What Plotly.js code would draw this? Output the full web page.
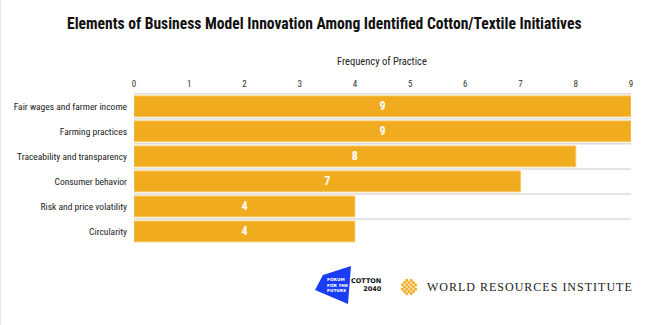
<!DOCTYPE html>
<html><head><meta charset="utf-8">
<script src="https://cdn.plot.ly/plotly-3.0.1.min.js"></script>
<style>html,body{margin:0;padding:0;background:#fff}#c{width:649px;height:325px}</style>
</head><body><div id="c"></div>
<script>
var categories = ["Fair wages and farmer income","Farming practices","Traceability and transparency","Consumer behavior","Risk and price volatility","Circularity"];
var values = [9,9,8,7,4,4];
var tickVals = [0,1,2,3,4,5,6,7,8,9];

var COND = "Roboto Condensed, Liberation Sans Narrow, DejaVu Sans Condensed, Arial Narrow, sans-serif";

var shapes = [];
// separators between rows (none below the last row)
for (var i = 0; i < categories.length; i++) {
  shapes.push({type:'line', xref:'x', yref:'y', x0:0, x1:9, y0:i-0.5, y1:i-0.5,
    line:{color:'#dcdcdc', width:1.5}, layer:'below'});
}
function px(x){ return (x-134)/497; }
function py(y){ return (244-y)/151; }
// left border of the image
shapes.push({type:'line', xref:'paper', yref:'paper', x0:px(0.5), x1:px(0.5), y0:py(325), y1:py(0), line:{color:'#e6e6e6', width:1}});
// Forum for the Future blue shape
var poly = [[323,275],[351,266],[348,304],[315,290]];
var path = 'M' + poly.map(function(p){return px(p[0])+','+py(p[1]);}).join(' L') + ' Z';
shapes.push({type:'path', xref:'paper', yref:'paper', path:path, fillcolor:'#1a3cf5', line:{width:0}});
// WRI logo diamond pattern
var cx = 409, cy = 287;
for (var a = -2; a <= 2; a++) {
  for (var b = -2; b <= 2; b++) {
    if (Math.abs(a) + Math.abs(b) > 3) continue;
    var x = cx + (a - b) * 2.2, y = cy + (a + b) * 2.2;
    shapes.push({type:'circle', xref:'paper', yref:'paper', x0:px(x-1.6), x1:px(x+1.6), y0:py(y+1.6), y1:py(y-1.6),
      fillcolor:'#f2b233', line:{width:0}});
  }
}

var wri = 'WORLD RESOURCES INSTITUTE'.split('').join('\u200A');

var annotations = [
  {xref:'paper', yref:'paper', x:px(324), y:py(24), text:'<b>Elements of Business Model Innovation Among Identified Cotton/Textile Initiatives</b>',
   showarrow:false, font:{family:COND, size:15.6, color:'#111'}, xanchor:'center', yanchor:'middle'},
  {xref:'paper', yref:'paper', x:px(382), y:py(61), text:'Frequency of Practice', showarrow:false,
   font:{family:COND, size:10.5, color:'#222'}, xanchor:'center', yanchor:'middle'},
  {xref:'paper', yref:'paper', x:px(325), y:py(285), text:'<b>FORUM<br>FOR THE<br>FUTURE</b>', showarrow:false, align:'left',
   font:{family:'DejaVu Sans', size:4.3, color:'#fff'}, xanchor:'left', yanchor:'middle'},
  {xref:'paper', yref:'paper', x:px(384), y:py(285), text:'<b>COTTON<br>2040</b>', showarrow:false, align:'right',
   font:{family:'DejaVu Sans', size:6.5, color:'#111'}, xanchor:'right', yanchor:'middle'},
  {xref:'paper', yref:'paper', x:px(425), y:py(287), text:wri, showarrow:false,
   font:{family:'Liberation Serif, DejaVu Serif, serif', size:12, color:'#222'}, xanchor:'left', yanchor:'middle'}
];

var trace = {
  type:'bar', orientation:'h', x:values, y:categories,
  marker:{color:'#f0ab1e', line:{color:'#f6c860', width:1}},
  text:values.map(String), textposition:'inside', insidetextanchor:'middle',
  textfont:{family:COND, size:12, color:'#fff', weight:'bold'},
  texttemplate:'<b>%{text}</b>', hoverinfo:'none', cliponaxis:false
};

var layout = {
  width:649, height:325,
  margin:{l:134, r:18, t:93, b:81},
  paper_bgcolor:'#fff', plot_bgcolor:'#fff',
  bargap:0.17,
  showlegend:false,
  xaxis:{side:'top', range:[0,9], tickvals:tickVals, ticktext:tickVals.map(String), showgrid:false, zeroline:false,
    showline:false, ticks:'', ticklabelstandoff:3, tickfont:{family:COND, size:9, color:'#333'}, fixedrange:true},
  yaxis:{autorange:'reversed', showgrid:false, zeroline:false, showline:false, ticks:'', ticklabelstandoff:6,
    tickfont:{family:COND, size:9.5, color:'#222'}, fixedrange:true},
  shapes:shapes, annotations:annotations
};

Plotly.newPlot('c', [trace], layout, {displayModeBar:false, staticPlot:true});
</script></body></html>
